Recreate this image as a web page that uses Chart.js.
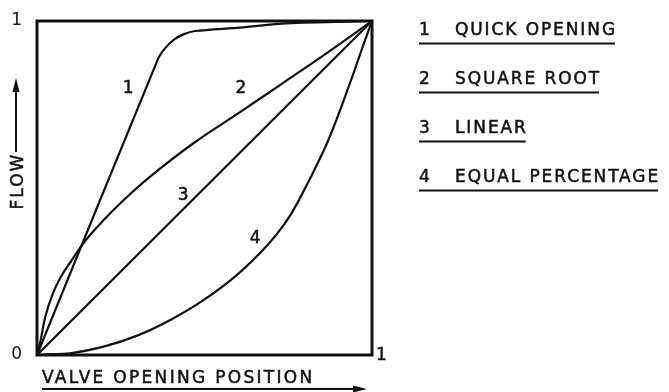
<!DOCTYPE html>
<html>
<head>
<meta charset="utf-8">
<script src="https://cdn.jsdelivr.net/npm/chart.js@4.4.1/dist/chart.umd.min.js"></script>
<style>
  html, body { margin: 0; padding: 0; background: #fff; }
  canvas { display: block; }
</style>
</head>
<body>
<canvas id="chart" width="669" height="392"></canvas>
<script>
// valve characteristics (fractions of full flow / full opening)
const curveNames = ['QUICK OPENING', 'SQUARE ROOT', 'LINEAR', 'EQUAL PERCENTAGE'];
const curveNums = ['1', '2', '3', '4'];

const quickX = [0, 0.362, 0.382, 0.407, 0.437, 0.472, 0.606, 0.746, 1];
const quickY = [0, 0.888, 0.918, 0.943, 0.960, 0.970, 0.980, 0.993, 1];

const sqrtX = [0, 0.010, 0.025, 0.045, 0.070, 0.104, 0.144, 0.199, 0.259, 0.335, 0.467, 0.606, 0.735, 0.865, 1];
const sqrtY = [0, 0.040, 0.115, 0.178, 0.232, 0.284, 0.342, 0.404, 0.464, 0.532, 0.634, 0.727, 0.815, 0.904, 1];

const linearX = [0, 1];
const linearY = [0, 1];

const eqpX = [0, 0.030, 0.099, 0.199, 0.299, 0.398, 0.498, 0.597, 0.687, 0.740, 0.780, 0.855, 0.890, 0.934, 0.974, 1];
const eqpY = [0, 0.002, 0.005, 0.025, 0.058, 0.105, 0.165, 0.240, 0.328, 0.394, 0.460, 0.610, 0.694, 0.813, 0.928, 1];

const yTicks = [0, 1];
const xTickLabel = '1';
const xTitle = 'VALVE OPENING POSITION';
const yTitle = 'FLOW';

const INK = '#111';
const FONT = '17px "DejaVu Sans"';

function pts(xs, ys) {
    return xs.map((x, i) => ({ x: x, y: ys[i] }));
}

// where the curve numbers sit, in data units
const numAt = [[0.272, 0.799], [0.609, 0.799], [0.436, 0.476], [0.651, 0.350]];

function arrowHead(ctx, x, y, dir) {
    ctx.beginPath();
    if (dir === 'up') {
        ctx.moveTo(x, y);
        ctx.lineTo(x - 3.5, y + 14);
        ctx.lineTo(x + 3.5, y + 14);
    } else {
        ctx.moveTo(x, y);
        ctx.lineTo(x - 14, y - 3.5);
        ctx.lineTo(x - 14, y + 3.5);
    }
    ctx.closePath();
    ctx.fill();
}

// filled text with a hairline stroke so it reads like the inked lettering
function ink(ctx, text, x, y) {
    ctx.fillText(text, x, y);
    ctx.lineWidth = 0.5;
    ctx.strokeText(text, x, y);
}

const drawingPlugin = {
    id: 'drawing',
    afterDraw(chart) {
        const ctx = chart.ctx;
        const a = chart.chartArea;
        const xs = chart.scales.x, ys = chart.scales.y;
        ctx.save();
        ctx.strokeStyle = INK;
        ctx.fillStyle = INK;

        // frame
        ctx.lineWidth = 3;
        ctx.strokeRect(a.left, a.top, a.right - a.left, a.bottom - a.top);

        ctx.font = FONT;
        ctx.textBaseline = 'middle';

        // x end label beside the bottom right corner
        ctx.textAlign = 'left';
        ink(ctx, xTickLabel, xs.getPixelForValue(1) + 4, ys.getPixelForValue(0) + 1);

        // curve numbers
        ctx.textAlign = 'center';
        curveNums.forEach((n, i) => {
            ink(ctx, n, xs.getPixelForValue(numAt[i][0]), ys.getPixelForValue(numAt[i][1]));
        });

        // x title with arrow underneath
        ctx.letterSpacing = '2.3px';
        ctx.textAlign = 'left';
        ink(ctx, xTitle, a.left + 5, a.bottom + 24);
        ctx.lineWidth = 2;
        ctx.beginPath();
        ctx.moveTo(a.left + 5, a.bottom + 34);
        ctx.lineTo(a.right - 10, a.bottom + 34);
        ctx.stroke();
        arrowHead(ctx, a.right - 5, a.bottom + 34, 'right');

        // y title, rotated, with arrow going up
        ctx.letterSpacing = '2px';
        ctx.save();
        ctx.translate(a.left - 18, 181);
        ctx.rotate(-Math.PI / 2);
        ctx.textAlign = 'center';
        ink(ctx, yTitle, 0, 0);
        ctx.restore();
        ctx.lineWidth = 2;
        ctx.beginPath();
        ctx.moveTo(a.left - 21, 152);
        ctx.lineTo(a.left - 21, 90);
        ctx.stroke();
        arrowHead(ctx, a.left - 21, 78, 'up');

        // legend
        ctx.letterSpacing = '1.9px';
        ctx.textAlign = 'left';
        const lx = a.right + 47;
        curveNames.forEach((name, i) => {
            const cy = 31 + i * 49;
            ink(ctx, curveNums[i], lx, cy);
            ink(ctx, name, lx + 36, cy);
            const w = ctx.measureText(name).width;
            ctx.lineWidth = 1.8;
            ctx.beginPath();
            ctx.moveTo(lx, cy + 12.5);
            ctx.lineTo(lx + 36 + w - 2, cy + 12.5);
            ctx.stroke();
        });
        ctx.restore();
    }
};

const lineStyle = {
    borderColor: INK,
    borderWidth: 2.2,
    pointRadius: 0,
    showLine: true,
    fill: false
};

new Chart(document.getElementById('chart'), {
    type: 'scatter',
    data: {
        datasets: [
            Object.assign({ label: curveNames[0], data: pts(quickX, quickY), tension: 0.3 }, lineStyle),
            Object.assign({ label: curveNames[1], data: pts(sqrtX, sqrtY), tension: 0.4 }, lineStyle),
            Object.assign({ label: curveNames[2], data: pts(linearX, linearY), tension: 0 }, lineStyle),
            Object.assign({ label: curveNames[3], data: pts(eqpX, eqpY), tension: 0.4 }, lineStyle)
        ]
    },
    options: {
        responsive: false,
        devicePixelRatio: 1,
        animation: false,
        layout: { padding: { left: 0, top: 21, right: 297, bottom: 37 } },
        plugins: { legend: { display: false }, tooltip: { enabled: false } },
        scales: {
            x: { type: 'linear', min: 0, max: 1, display: false },
            y: {
                type: 'linear', min: 0, max: 1,
                grid: { display: false },
                border: { display: false },
                afterFit: s => { s.width = 37; },
                afterBuildTicks: s => { s.ticks = yTicks.map(v => ({ value: v })); },
                ticks: { color: INK, font: { family: 'DejaVu Sans', size: 17 }, padding: 7 }
            }
        }
    },
    plugins: [drawingPlugin]
});
</script>
</body>
</html>
